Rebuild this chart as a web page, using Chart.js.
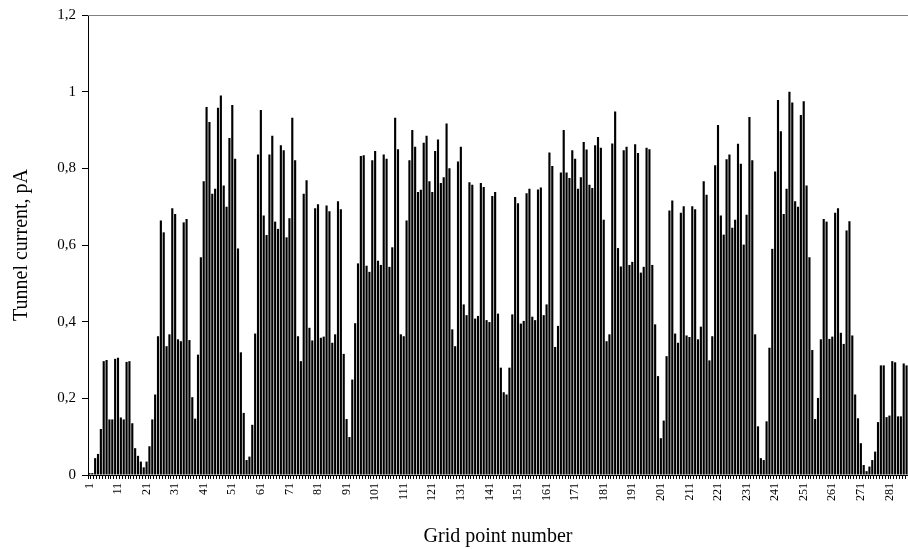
<!DOCTYPE html>
<html>
<head>
<meta charset="utf-8">
<script src="https://cdn.jsdelivr.net/npm/chart.js@4/dist/chart.umd.min.js"></script>
<style>
  html, body { margin: 0; padding: 0; background: #fff; }
  #chart { display: block; }
</style>
</head>
<body>
<canvas id="chart" width="908" height="549"></canvas>
<script>
// ==================== DATA ====================

// tunnel current (pA) at each grid point
const current = [
    0.005, 0.005, 0.044, 0.055, 0.12, 0.297, 0.30, 0.145, 0.145, 0.303,
    0.306, 0.15, 0.145, 0.295, 0.297, 0.135, 0.07, 0.05, 0.035, 0.02,
    0.035, 0.075, 0.145, 0.21, 0.362, 0.664, 0.633, 0.336, 0.367, 0.696,
    0.681, 0.354, 0.349, 0.659, 0.668, 0.352, 0.203, 0.147, 0.314, 0.568,
    0.766, 0.96, 0.921, 0.734, 0.747, 0.958, 0.99, 0.755, 0.70, 0.879,
    0.965, 0.825, 0.591, 0.32, 0.162, 0.039, 0.048, 0.131, 0.369, 0.836,
    0.952, 0.677, 0.626, 0.836, 0.885, 0.661, 0.642, 0.86, 0.847, 0.62,
    0.67, 0.932, 0.821, 0.362, 0.297, 0.734, 0.769, 0.384, 0.351, 0.696,
    0.706, 0.358, 0.361, 0.703, 0.688, 0.345, 0.367, 0.714, 0.693, 0.316,
    0.146, 0.099, 0.249, 0.396, 0.552, 0.832, 0.834, 0.546, 0.53, 0.821,
    0.845, 0.559, 0.548, 0.836, 0.825, 0.543, 0.594, 0.932, 0.85, 0.367,
    0.362, 0.664, 0.821, 0.9, 0.856, 0.738, 0.744, 0.867, 0.885, 0.766,
    0.738, 0.845, 0.875, 0.762, 0.777, 0.917, 0.8, 0.38, 0.336, 0.818,
    0.856, 0.445, 0.417, 0.764, 0.757, 0.408, 0.415, 0.762, 0.751, 0.404,
    0.399, 0.728, 0.738, 0.421, 0.28, 0.216, 0.21, 0.28, 0.419, 0.725,
    0.709, 0.395, 0.402, 0.735, 0.747, 0.413, 0.404, 0.745, 0.75, 0.417,
    0.445, 0.841, 0.806, 0.334, 0.389, 0.789, 0.9, 0.789, 0.775, 0.847,
    0.825, 0.747, 0.777, 0.869, 0.849, 0.757, 0.749, 0.86, 0.882, 0.854,
    0.666, 0.349, 0.367, 0.865, 0.948, 0.592, 0.544, 0.847, 0.856, 0.548,
    0.556, 0.863, 0.84, 0.528, 0.543, 0.854, 0.85, 0.548, 0.393, 0.258,
    0.096, 0.142, 0.31, 0.69, 0.716, 0.369, 0.345, 0.684, 0.701, 0.364,
    0.36, 0.701, 0.693, 0.354, 0.387, 0.766, 0.731, 0.299, 0.362, 0.808,
    0.913, 0.677, 0.627, 0.824, 0.836, 0.645, 0.666, 0.864, 0.812, 0.601,
    0.679, 0.934, 0.821, 0.367, 0.127, 0.044, 0.039, 0.14, 0.332, 0.59,
    0.792, 0.978, 0.897, 0.681, 0.747, 1.0, 0.972, 0.714, 0.70, 0.939,
    0.975, 0.755, 0.568, 0.326, 0.146, 0.201, 0.354, 0.668, 0.661, 0.355,
    0.361, 0.684, 0.696, 0.371, 0.342, 0.638, 0.662, 0.364, 0.21, 0.148,
    0.083, 0.026, 0.01, 0.022, 0.039, 0.061, 0.138, 0.286, 0.286, 0.151,
    0.155, 0.297, 0.294, 0.153, 0.153, 0.291, 0.286
];

// grid point numbers 1..N
const gridPoints = current.map((_, i) => String(i + 1));

// labelled categories on the x axis
const tickLabels = ['1', '11', '21', '31', '41', '51', '61', '71', '81', '91',
    '101', '111', '121', '131', '141', '151', '161', '171', '181', '191',
    '201', '211', '221', '231', '241', '251', '261', '271', '281'];

const yTicks = [0, 0.2, 0.4, 0.6, 0.8, 1, 1.2];

const FONT = '"Liberation Serif", "Times New Roman", serif';

// ==================== DECORATION PLUGIN ====================

const axisDecor = {
    id: 'axisDecor',
    afterDraw(chart) {
        const { ctx, chartArea, scales } = chart;
        ctx.save();

        // plot frame (top edge)
        ctx.strokeStyle = '#7f7f7f';
        ctx.lineWidth = 1;
        ctx.beginPath();
        ctx.moveTo(chartArea.left, chartArea.top + 0.5);
        ctx.lineTo(chartArea.right, chartArea.top + 0.5);
        ctx.stroke();

        // rotated category labels, reading bottom to top
        ctx.fillStyle = '#000';
        ctx.font = '12px ' + FONT;
        ctx.textAlign = 'right';
        ctx.textBaseline = 'middle';
        tickLabels.forEach(lbl => {
            const x = scales.x.getPixelForValue(gridPoints.indexOf(lbl));
            ctx.save();
            ctx.translate(x, chartArea.bottom + 8);
            ctx.rotate(-Math.PI / 2);
            ctx.fillText(lbl, 0, 0);
            ctx.restore();
        });

        // axis titles
        ctx.font = '20px ' + FONT;
        ctx.textAlign = 'center';
        ctx.textBaseline = 'middle';
        ctx.fillText('Grid point number', (chartArea.left + chartArea.right) / 2, chartArea.bottom + 62);

        ctx.save();
        ctx.translate(22, (chartArea.top + chartArea.bottom) / 2);
        ctx.rotate(-Math.PI / 2);
        ctx.fillText('Tunnel current, pA', 0, 0);
        ctx.restore();

        ctx.restore();
    }
};

// ==================== CHART ====================

new Chart(document.getElementById('chart'), {
    type: 'bar',
    data: {
        labels: gridPoints,
        datasets: [{
            data: current,
            backgroundColor: '#000',
            borderWidth: 0,
            barPercentage: 0.75,
            categoryPercentage: 1.0
        }]
    },
    options: {
        responsive: false,
        animation: false,
        devicePixelRatio: 1,
        layout: { padding: { top: 15, right: 0, bottom: 0, left: 0 } },
        plugins: {
            legend: { display: false },
            tooltip: { enabled: false }
        },
        scales: {
            x: {
                afterFit(scale) { scale.height = 74; },
                grid: {
                    drawOnChartArea: false,
                    drawTicks: true,
                    tickLength: 4,
                    color: '#000',
                    offset: true
                },
                border: { color: '#000', width: 1 },
                ticks: {
                    display: false,
                    autoSkip: false
                }
            },
            y: {
                min: 0,
                max: 1.2,
                afterFit(scale) { scale.width = 88; },
                afterBuildTicks(scale) { scale.ticks = yTicks.map(v => ({ value: v })); },
                grid: {
                    drawOnChartArea: false,
                    drawTicks: true,
                    tickLength: 6,
                    color: '#000'
                },
                border: { color: '#000', width: 1 },
                ticks: {
                    color: '#000',
                    padding: 6,
                    font: { size: 15, family: FONT },
                    callback: v => Number.isInteger(v) ? String(v) : v.toFixed(1).replace('.', ',')
                }
            }
        }
    },
    plugins: [axisDecor]
});
</script>
</body>
</html>
